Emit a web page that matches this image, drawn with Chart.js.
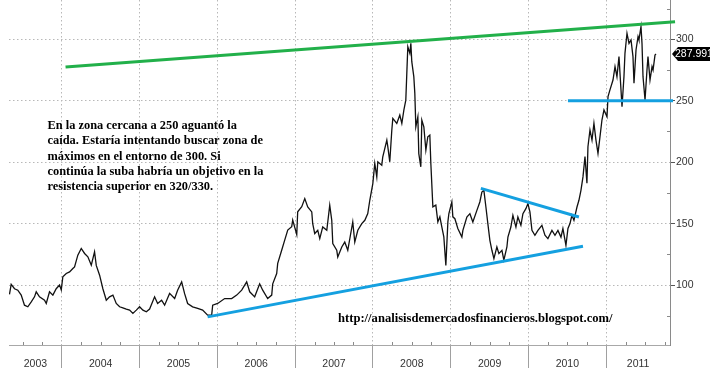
<!DOCTYPE html>
<html><head><meta charset="utf-8">
<script src="https://cdn.jsdelivr.net/npm/chart.js@4.4.0/dist/chart.umd.min.js"></script>
<style>html,body{margin:0;padding:0;background:#fff;}canvas{display:block;}</style>
</head><body>
<canvas id="c" width="710" height="380"></canvas>
<script>
// ---- data (decimal year, price) ----
const dates = [
2003.327,2003.349,2003.392,2003.434,2003.478,2003.520,2003.563,2003.607,2003.649,2003.671,
2003.713,2003.778,2003.800,2003.842,2003.885,2003.928,2003.971,2003.993,2004.013,2004.057,
2004.100,2004.142,2004.164,2004.206,2004.250,2004.293,2004.335,2004.379,2004.421,2004.443,
2004.486,2004.528,2004.572,2004.614,2004.657,2004.700,2004.743,2004.785,2004.829,2004.872,
2004.914,2004.958,2005.000,2005.043,2005.087,2005.129,2005.193,2005.232,2005.283,2005.322,
2005.386,2005.451,2005.489,2005.541,2005.579,2005.618,2005.682,2005.747,2005.811,2005.875,
2005.927,2005.940,2006.004,2006.094,2006.184,2006.249,2006.313,2006.377,2006.416,2006.480,
2006.544,2006.583,2006.647,2006.699,2006.712,2006.763,2006.776,2006.828,2006.866,2006.905,
2006.956,2006.969,2007.021,2007.033,2007.085,2007.124,2007.162,2007.214,2007.226,2007.252,
2007.291,2007.317,2007.355,2007.407,2007.445,2007.471,2007.484,2007.535,2007.548,2007.600,
2007.638,2007.677,2007.741,2007.767,2007.806,2007.857,2007.896,2007.934,2007.960,2007.999,
2008.024,2008.050,2008.063,2008.114,2008.127,2008.179,2008.192,2008.217,2008.243,2008.256,
2008.307,2008.346,2008.372,2008.398,2008.423,2008.436,2008.449,2008.475,2008.488,2008.500,
2008.526,2008.539,2008.552,2008.578,2008.590,2008.616,2008.629,2008.655,2008.681,2008.706,
2008.732,2008.745,2008.771,2008.809,2008.835,2008.861,2008.886,2008.912,2008.938,2008.964,
2008.977,2009.015,2009.028,2009.054,2009.092,2009.144,2009.157,2009.208,2009.247,2009.285,
2009.337,2009.375,2009.401,2009.427,2009.453,2009.478,2009.504,2009.530,2009.556,2009.594,
2009.620,2009.659,2009.684,2009.723,2009.736,2009.774,2009.800,2009.839,2009.864,2009.903,
2009.929,2009.967,2009.993,2010.019,2010.045,2010.083,2010.122,2010.173,2010.212,2010.250,
2010.302,2010.341,2010.379,2010.418,2010.443,2010.482,2010.508,2010.534,2010.559,2010.585,
2010.624,2010.649,2010.675,2010.701,2010.727,2010.752,2010.765,2010.791,2010.817,2010.842,
2010.868,2010.894,2010.920,2010.945,2010.971,2011.010,2011.023,2011.048,2011.087,2011.113,
2011.138,2011.164,2011.190,2011.203,2011.228,2011.241,2011.267,2011.293,2011.319,2011.344,
2011.357,2011.383,2011.409,2011.421,2011.447,2011.460,2011.473,2011.499,2011.524,2011.537,
2011.563,2011.589,2011.602,2011.627,2011.640
];
const prices = [
92.4,100.5,97,95.8,91.8,83.6,82.3,86.3,90.4,94.5,
90.4,87.7,85,94.5,91.8,97,100,96,106.7,109.4,
110.7,113.5,114.8,124.3,129.8,125.7,123,116.2,127,116,
108,97,87.7,90.4,91.8,85,82.3,81.5,80.4,79.6,
76.9,79.6,82.3,79.6,78.2,80.5,90.4,85,87.7,83.6,
93.2,89,95.8,102.6,93,85,82.3,81,79.6,75.5,
75.5,83.6,85,89,89,91.8,95.8,102.6,94.5,90.4,
101,95.8,89,91.8,101,109.4,117.6,128.5,136.6,144.7,
147.5,152.8,141,159.6,163.7,170.4,163.6,159.5,150,141.9,
144.6,137.8,147.3,144.6,165,152.7,133.7,128.3,122.8,131,
135,128.3,151.4,135,144.6,150,152.7,158.2,169,182.6,
199,188,200.3,197.6,204.4,218,212.5,200.3,226,235.6,
231.5,238.3,231.5,242.4,250.5,272.3,294,288.6,296.7,281.8,
269.6,256,228.8,237,207,196.2,234.2,228.8,209.8,220.7,
222,199,163.6,165,151.4,155.5,147.3,139.2,116,151.4,
158.2,167.7,155.5,154,146,139,144.5,155.4,158.1,151.3,
160.8,167.6,175.7,177.1,163.5,150,136.4,128.3,121.5,131,
125.6,128.3,120.2,131,139,147.2,156.8,147.2,155.4,148.6,
158.1,162.2,166.3,159.5,144.5,140.5,144.5,148.6,140.5,137.8,
144.5,140.5,144.5,139,146,132.3,146,150,156.8,152.7,
163.5,169,177.1,188,204.5,182.8,212.6,226.2,218,231.6,
218,207.2,220.8,234.3,242.5,237,253.3,258.8,266.9,277.8,
269.6,285.9,258.8,245.2,269.6,288.6,304.9,296.7,299.5,285.9,
264.2,291.3,302.2,299.5,310.3,296.7,269.6,250.6,275,285.9,
266.9,277.8,275,287.2,287.991
];
const yearLabels = ['2003','2004','2005','2006','2007','2008','2009','2010','2011'];
const yearStarts = [2004,2005,2006,2007,2008,2009,2010,2011];
const yTicks = [100,150,200,250,300];
const xMin = 2003.321, xMax = 2011.82;
const yMin = 51.2, yMax = 332;

// trend lines
const resistanceX = [2004.048, 2011.885], resistanceY = [277.4, 314.3];
const supportX = [2005.875, 2010.701], supportY = [74.1, 131.6];
const triangleX = [2009.388, 2010.649], triangleY = [178.7, 155.4];
const levelX = [2010.508, 2011.859], levelY = [250, 250];

const noteLines = [
 'En la zona cercana a 250 aguantó la',
 'caída. Estaría intentando buscar zona de',
 'máximos en el entorno de 300. Si',
 'continúa la suba habría un objetivo en la',
 'resistencia superior en 320/330.'
];
const urlText = 'http://analisisdemercadosfinancieros.blogspot.com/';

const GREEN = '#22b04a', BLUE = '#14a0e0';
const pts = (xs, ys) => xs.map((x, i) => ({x, y: ys[i]}));

const textPlugin = {
  id: 'texts',
  afterDraw(chart) {
    const {ctx} = chart;
    const y = chart.scales.y;
    ctx.save();
    // minor ticks
    ctx.strokeStyle = '#8a8a8a'; ctx.lineWidth = 1;
    ctx.beginPath();
    const x = chart.scales.x, a = chart.chartArea;
    for (let yr = 2003; yr <= 2011; yr++) {
      for (const q of [0.25, 0.5, 0.75]) {
        const v = yr + q;
        if (v <= xMin || v >= xMax) continue;
        const px = Math.round(x.getPixelForValue(v)) + 0.5;
        ctx.moveTo(px, a.bottom); ctx.lineTo(px, a.bottom - 3);
      }
    }
    for (let v = 75; v <= 325; v += 50) {
      const py = Math.round(y.getPixelForValue(v)) + 0.5;
      ctx.moveTo(a.right, py); ctx.lineTo(a.right - 3, py);
    }
    ctx.stroke();
    // annotation
    ctx.fillStyle = '#000';
    ctx.font = 'bold 12.4px "Liberation Serif", "Times New Roman", serif';
    ctx.textBaseline = 'middle'; ctx.textAlign = 'left';
    noteLines.forEach((l, i) => ctx.fillText(l, 47.5, 126 + i * 15.2));
    ctx.font = 'bold 12.6px "Liberation Serif", "Times New Roman", serif';
    ctx.fillText(urlText, 338, 319);
    // last value tag
    const last = prices[prices.length - 1];
    const ty = y.getPixelForValue(last);
    ctx.fillStyle = '#000';
    ctx.beginPath();
    ctx.moveTo(672, ty); ctx.lineTo(678, ty - 7); ctx.lineTo(710, ty - 7);
    ctx.lineTo(710, ty + 7); ctx.lineTo(678, ty + 7); ctx.closePath(); ctx.fill();
    ctx.fillStyle = '#fff';
    ctx.font = '10.5px "Liberation Sans", Arial, sans-serif';
    ctx.fillText(last.toFixed(3), 675, ty + 0.5);
    ctx.restore();
  }
};

new Chart(document.getElementById('c'), {
  type: 'line',
  data: {
    datasets: [
      {data: pts(resistanceX, resistanceY), borderColor: GREEN, borderWidth: 3, pointRadius: 0, clip: false, order: 0},
      {data: pts(supportX, supportY), borderColor: BLUE, borderWidth: 3, pointRadius: 0, clip: false, order: 0},
      {data: pts(triangleX, triangleY), borderColor: BLUE, borderWidth: 3, pointRadius: 0, clip: false, order: 0},
      {data: pts(levelX, levelY), borderColor: BLUE, borderWidth: 3, pointRadius: 0, clip: false, order: 0},
      {data: pts(dates, prices), borderColor: '#111', borderWidth: 1.3, pointRadius: 0, tension: 0, order: 1}
    ]
  },
  options: {
    responsive: false, animation: false,
    layout: {padding: {left: 9, top: 0, right: 0, bottom: 0}},
    plugins: {legend: {display: false}, tooltip: {enabled: false}},
    scales: {
      x: {
        type: 'linear', position: 'bottom', min: xMin, max: xMax,
        afterBuildTicks(s) {
          const bounds = [xMin, ...yearStarts, xMax];
          const t = [];
          yearLabels.forEach((lab, i) => t.push({value: (bounds[i] + bounds[i + 1]) / 2, lab}));
          yearStarts.forEach(v => t.push({value: v, lab: '', sep: true}));
          t.sort((p, q) => p.value - q.value);
          s.ticks = t;
        },
        afterFit(s) { s.height = 35; s.paddingLeft = 0; s.paddingRight = 0; },
        ticks: {
          autoSkip: false, maxRotation: 0, padding: -10, color: '#333',
          font: {family: '"Liberation Sans", Arial, sans-serif', size: 10.5},
          callback(v, i, ticks) { return ticks[i].lab; }
        },
        grid: {
          color: c => (c.tick && c.tick.sep) ? '#b8b8b8' : 'rgba(0,0,0,0)',
          tickColor: c => (c.tick && c.tick.sep) ? '#a0a0a0' : 'rgba(0,0,0,0)',
          tickLength: 23, tickBorderDash: [], lineWidth: 1
        },
        border: {display: true, color: '#a8a8a8', dash: [1.5, 2.5]}
      },
      y: {
        type: 'linear', position: 'right', min: yMin, max: yMax,
        afterBuildTicks(s) { s.ticks = yTicks.map(v => ({value: v})); },
        afterFit(s) { s.width = 40; s.paddingTop = 0; s.paddingBottom = 0; },
        ticks: {
          padding: 1, color: '#333',
          font: {family: '"Liberation Sans", Arial, sans-serif', size: 10.5}
        },
        grid: {color: '#b8b8b8', tickColor: '#555', tickLength: 5, tickBorderDash: [], lineWidth: 1},
        border: {display: true, color: '#8a8a8a', dash: [1.5, 2.5]}
      }
    }
  },
  plugins: [textPlugin]
});
</script>
</body></html>
